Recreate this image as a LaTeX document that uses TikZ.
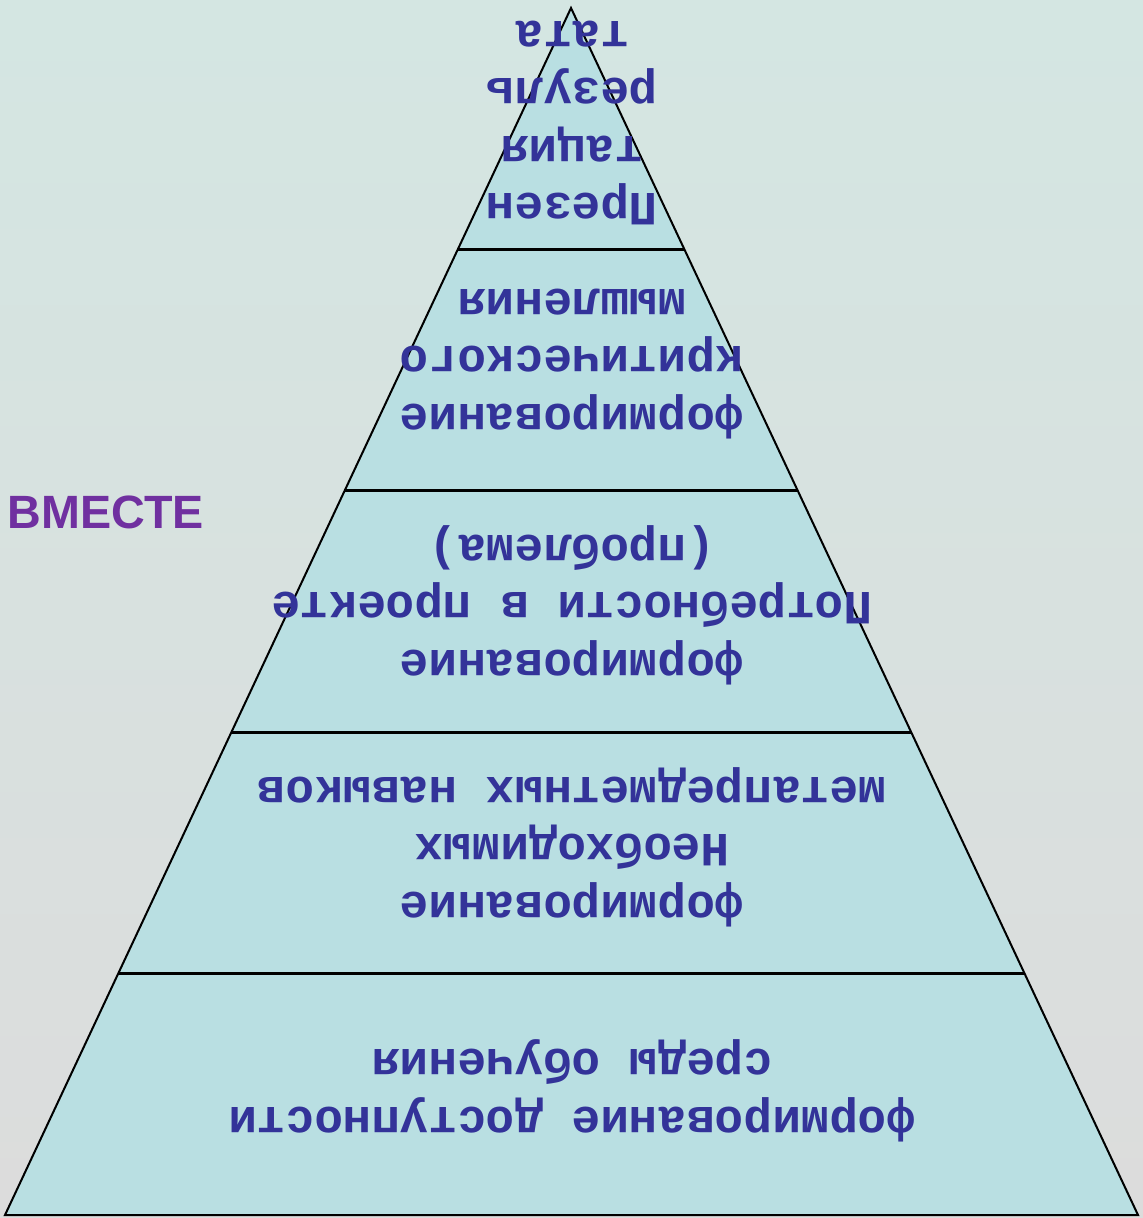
\documentclass[tikz,border=0pt]{standalone}
\usepackage{fontspec}
\setmainfont{Liberation Sans}
\newfontfamily\layerfont{Liberation Mono}
\usetikzlibrary{calc}
\definecolor{txtblue}{HTML}{333399}
\definecolor{layerfill}{HTML}{B9DFE2}
\definecolor{bgtop}{HTML}{D4E6E2}
\definecolor{bgbottom}{HTML}{DCDCDC}
\definecolor{togetherviolet}{HTML}{7030A0}
\begin{document}
\begin{tikzpicture}[x=1pt,y=-1pt, layer/.style={rotate=180,align=center,text=txtblue,inner sep=0pt,font=\layerfont\bfseries\fontsize{47.7}{57.5}\selectfont}, divider/.style={line width=3pt}, edge/.style={line width=2pt,line join=miter}]
\shade[top color=bgtop,bottom color=bgbottom] (0,0) rectangle (1143,1218);
\useasboundingbox (0,0) rectangle (1143,1218);
\coordinate (apex) at (571,8);
\coordinate (bl) at (5,1215);
\coordinate (br) at (1138,1215);
\fill[layerfill] (apex) -- (bl) -- (br) -- cycle;
\foreach \t in {0.2,0.4,0.6,0.8}
  \draw[divider] ($(apex)!\t!(bl)$) -- ($(apex)!\t!(br)$);
\draw[edge] (apex) -- (bl) -- (br) -- cycle;
\node[layer] (l1) at (572,123) {Презен\\тация\\резуль\\тата};
\node[layer] (l2) at (572,364) {формирование\\критического\\мышления};
\node[layer] (l3) at (572,605) {формирование\\Потребности в проекте\\(проблема)};
\node[layer] (l4) at (572,847) {формирование\\Необходимых\\метапредметных навыков};
\node[layer] (l5) at (572,1091) {формирование доступности\\среды обучения};
\node[text=togetherviolet,font=\bfseries\fontsize{46.7}{56}\selectfont] (together) at (106,512) {ВМЕСТЕ};
\end{tikzpicture}
\end{document}
